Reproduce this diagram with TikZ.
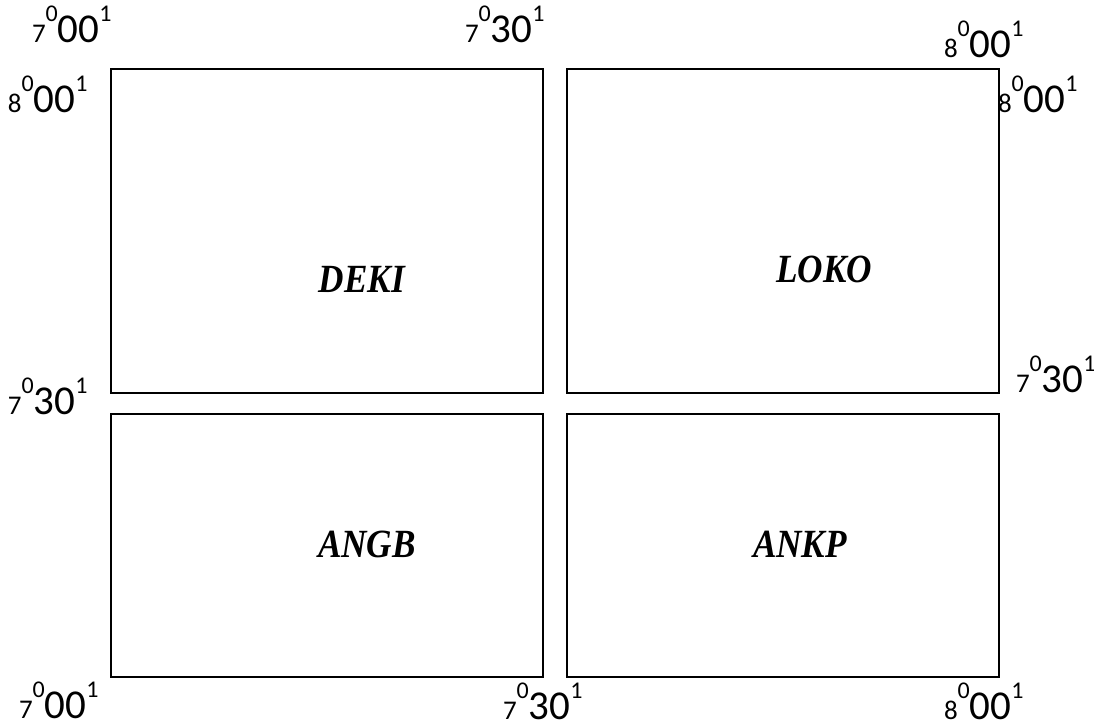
\documentclass[tikz,border=0pt]{standalone}
\usepackage{fontspec}
\setmainfont{Carlito}
\newfontfamily\labfont{Liberation Serif}
\newcommand\geolab[2]{{\fontsize{27}{27}\selectfont #1}\raisebox{21pt}{\fontsize{24}{24}\selectfont 0}{\fontsize{41}{41}\selectfont #2}\raisebox{21pt}{\fontsize{24}{24}\selectfont 1}}
\newcommand\sheetlab[1]{\scalebox{0.88}[1]{\labfont\bfseries\itshape\fontsize{40}{40}\selectfont #1}}
\tikzset{
  sheet/.style={draw=black, line width=1.6pt},
  coordlab/.style={anchor=base west, inner sep=0pt, outer sep=0pt, text depth=0pt},
  sheetname/.style={anchor=base, inner sep=0pt, text depth=0pt}
}
\begin{document}
\begin{tikzpicture}[x=1pt,y=-1pt]
\useasboundingbox (0,0) rectangle (1094,725);
% sheets
\node[sheet, minimum width=432pt, minimum height=324pt, anchor=north west, inner sep=0pt] (deki) at (110,68) {};
\node[sheet, minimum width=432pt, minimum height=324pt, anchor=north west, inner sep=0pt] (loko) at (566,68) {};
\node[sheet, minimum width=432pt, minimum height=263pt, anchor=north west, inner sep=0pt] (angb) at (110,413) {};
\node[sheet, minimum width=432pt, minimum height=263pt, anchor=north west, inner sep=0pt] (ankp) at (566,413) {};
% sheet names
\node[sheetname] (ndeki) at (362,292) {\sheetlab{DEKI}};
\node[sheetname] (nloko) at (824,282) {\sheetlab{LOKO}};
\node[sheetname] (nangb) at (367,557) {\sheetlab{ANGB}};
\node[sheetname] (nankp) at (800,557) {\sheetlab{ANKP}};
% coordinate labels
\node[coordlab] (t1) at (32,43) {\geolab{7}{00}};
\node[coordlab] (t2) at (465,43) {\geolab{7}{30}};
\node[coordlab] (t3) at (944,58) {\geolab{8}{00}};
\node[coordlab] (l1) at (8,112) {\geolab{8}{00}};
\node[coordlab] (r1) at (998,112) {\geolab{8}{00}};
\node[coordlab] (l2) at (8,414) {\geolab{7}{30}};
\node[coordlab] (r2) at (1016,392) {\geolab{7}{30}};
\node[coordlab] (b1) at (19,718) {\geolab{7}{00}};
\node[coordlab] (b2) at (503,719) {\geolab{7}{30}};
\node[coordlab] (b3) at (944,719) {\geolab{8}{00}};
\end{tikzpicture}
\end{document}
